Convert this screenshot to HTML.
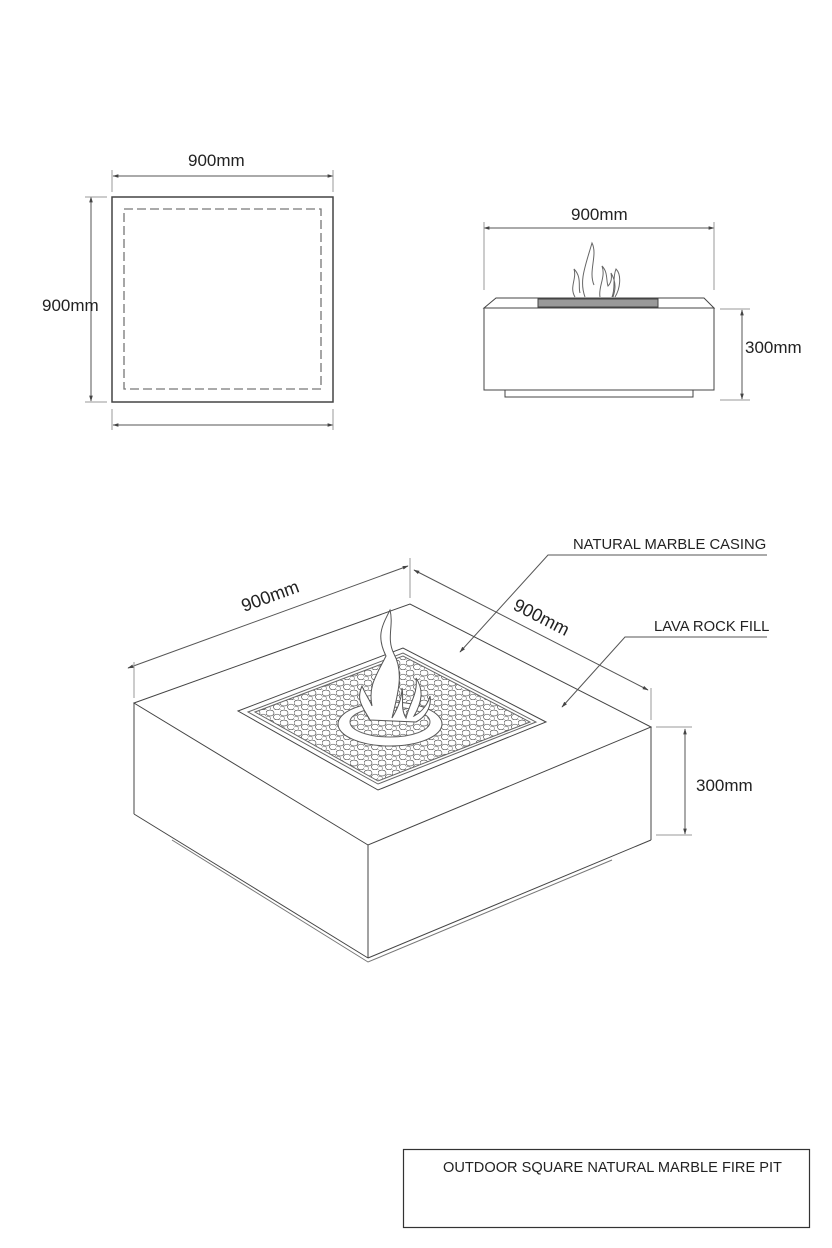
<!DOCTYPE html>
<html><head><meta charset="utf-8"><style>
html,body{margin:0;padding:0;background:#fff}
svg{display:block}
text{font-family:"Liberation Sans",Arial,sans-serif;fill:#222}
</style></head><body>
<svg width="832" height="1248" viewBox="0 0 832 1248" xmlns="http://www.w3.org/2000/svg">
<defs>
<marker id="a" viewBox="0 0 10 10" refX="9" refY="5" markerWidth="6" markerHeight="6" orient="auto-start-reverse"><path d="M0,2 L10,5 L0,8 z" fill="#444"/></marker>
<pattern id="rk" width="14" height="10" patternUnits="userSpaceOnUse">
<ellipse cx="4" cy="3" rx="4" ry="3" fill="none" stroke="#555" stroke-width="0.7"/>
<ellipse cx="11" cy="7" rx="3.5" ry="2.8" fill="none" stroke="#555" stroke-width="0.7"/>
<ellipse cx="2" cy="8.5" rx="2.5" ry="2" fill="none" stroke="#666" stroke-width="0.6"/>
</pattern>
<clipPath id="cp"><polygon points="255,712 403,656 530,722 378,781"/></clipPath>
</defs>
<g stroke="#555" fill="none" stroke-width="1">
<rect x="112" y="197" width="221" height="205" stroke="#444" stroke-width="1.5"/>
<rect x="124" y="209" width="197" height="180" stroke="#777" stroke-width="1.3" stroke-dasharray="9,4"/>
<line x1="113" y1="176" x2="333" y2="176" marker-start="url(#a)" marker-end="url(#a)"/>
<line x1="112" y1="170" x2="112" y2="192" stroke="#999"/>
<line x1="333" y1="170" x2="333" y2="192" stroke="#999"/>
<line x1="91" y1="197" x2="91" y2="401" marker-start="url(#a)" marker-end="url(#a)"/>
<line x1="85" y1="197" x2="107" y2="197" stroke="#999"/>
<line x1="85" y1="402" x2="107" y2="402" stroke="#999"/>
<line x1="113" y1="425" x2="333" y2="425" marker-start="url(#a)" marker-end="url(#a)"/>
<line x1="112" y1="409" x2="112" y2="430" stroke="#999"/>
<line x1="333" y1="409" x2="333" y2="430" stroke="#999"/>
<line x1="484" y1="228" x2="714" y2="228" marker-start="url(#a)" marker-end="url(#a)"/>
<line x1="484" y1="222" x2="484" y2="290" stroke="#999"/>
<line x1="714" y1="222" x2="714" y2="290" stroke="#999"/>
<polygon points="484,308 496,298 704,298 714,308" stroke="#444"/>
<rect x="484" y="308" width="230" height="82" stroke="#444"/>
<rect x="505" y="390" width="188" height="7" stroke="#444"/>
<rect x="538" y="299" width="120" height="8" fill="#999" stroke="#444"/>
<path d="M575,297 c-6,-10 2,-18 -1,-28 c8,8 4,18 6,24 M585,297 c-6,-16 0,-30 7,-54 c6,12 -4,28 2,42 M600,297 c-2,-10 6,-20 2,-31 c6,6 4,14 6,20 c3,-3 4,-8 3,-13 c6,10 4,18 2,24 M612,297 c4,-10 0,-18 4,-28 c6,6 4,20 -1,28" stroke="#666"/>
<line x1="742" y1="310" x2="742" y2="399" marker-start="url(#a)" marker-end="url(#a)"/>
<line x1="720" y1="309" x2="750" y2="309" stroke="#999"/>
<line x1="720" y1="400" x2="750" y2="400" stroke="#999"/>
<polygon points="134,703 410,604 651,727 368,845" stroke="#444"/>
<line x1="134" y1="703" x2="134" y2="814" stroke="#444"/>
<line x1="368" y1="845" x2="368" y2="958" stroke="#444"/>
<line x1="651" y1="727" x2="651" y2="840" stroke="#444"/>
<line x1="134" y1="814" x2="368" y2="958" stroke="#444"/>
<line x1="368" y1="958" x2="651" y2="840" stroke="#444"/>
<polyline points="172,840 368,962 612,860" stroke="#777"/>
<polygon points="238,711 403,648 546,722 378,790" stroke="#444"/>
<polygon points="248,712 403,653 536,722 378,784" stroke="#666"/>
<rect x="230" y="640" width="320" height="160" fill="url(#rk)" stroke="none" clip-path="url(#cp)"/>
<polygon points="255,712 403,656 530,722 378,781" stroke="#666"/>
<ellipse cx="390" cy="724" rx="52" ry="22" fill="#fff" stroke="#555"/>
<ellipse cx="390" cy="722" rx="40" ry="15" fill="url(#rk)" stroke="#666"/>
<path d="M370,720 c-8,-14 -14,-20 -8,-34 c4,10 8,14 10,20 c-4,-20 4,-30 14,-50 c-10,-20 -4,-30 4,-46 c4,16 -4,28 4,44 c10,18 4,40 -2,64 c6,-10 10,-20 10,-30 c2,10 -2,20 4,30 c4,-16 12,-24 10,-40 c8,12 6,24 -2,38 c8,-4 14,-12 16,-20 c2,12 -6,22 -14,26 z" fill="#fff" stroke="#555"/>
<line x1="128" y1="668" x2="408" y2="566" marker-start="url(#a)" marker-end="url(#a)"/>
<line x1="134" y1="662" x2="134" y2="698" stroke="#999"/>
<line x1="410" y1="558" x2="410" y2="598" stroke="#999"/>
<line x1="414" y1="570" x2="648" y2="690" marker-start="url(#a)" marker-end="url(#a)"/>
<line x1="651" y1="688" x2="651" y2="720" stroke="#999"/>
<line x1="685" y1="729" x2="685" y2="834" marker-start="url(#a)" marker-end="url(#a)"/>
<line x1="656" y1="727" x2="692" y2="727" stroke="#999"/>
<line x1="656" y1="835" x2="692" y2="835" stroke="#999"/>
<polyline points="767,555 548,555 460,652" marker-end="url(#a)"/>
<polyline points="767,637 625,637 562,707" marker-end="url(#a)"/>
<rect x="403.5" y="1149.5" width="406" height="78" stroke="#333" stroke-width="1.2"/>
</g>
<text x="188" y="166" font-size="17">900mm</text>
<text x="42" y="311" font-size="17">900mm</text>
<text x="571" y="220" font-size="17">900mm</text>
<text x="745" y="353" font-size="17">300mm</text>
<text x="244" y="612" font-size="18" transform="rotate(-20 244 612)">900mm</text>
<text x="512" y="609" font-size="18" transform="rotate(27 512 609)">900mm</text>
<text x="696" y="791" font-size="17">300mm</text>
<text x="573" y="549" font-size="14.8">NATURAL MARBLE CASING</text>
<text x="654" y="631" font-size="14.8">LAVA ROCK FILL</text>
<text x="443" y="1172" font-size="14.6">OUTDOOR SQUARE NATURAL MARBLE FIRE PIT</text>
</svg>
</body></html>
